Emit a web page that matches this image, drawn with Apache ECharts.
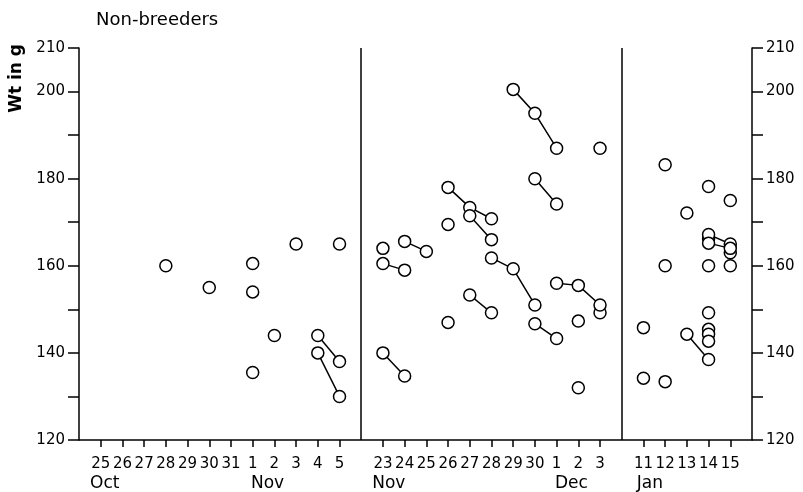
<!DOCTYPE html>
<html>
<head>
<meta charset="utf-8">
<script src="https://cdn.jsdelivr.net/npm/echarts@6/dist/echarts.min.js"></script>
<style>
  html, body { margin: 0; padding: 0; background: #fff; }
  #chart { width: 803px; height: 492px; }
</style>
</head>
<body>
<div id="chart"></div>
<script>
// day categories for the three periods, prefixed a/b/c so names stay unique
var octNovDays = ['a25', 'a26', 'a27', 'a28', 'a29', 'a30', 'a31', 'a1', 'a2', 'a3', 'a4', 'a5'];
var novDecDays = ['b23', 'b24', 'b25', 'b26', 'b27', 'b28', 'b29', 'b30', 'b1', 'b2', 'b3'];
var janDays = ['c11', 'c12', 'c13', 'c14', 'c15'];
var categories = ['gap0'].concat(octNovDays, ['gap1'], novDecDays, ['gap2'], janDays, ['gap3']);

// month names, placed under the first day of each run
var monthLabels = { gap0: '{a|Oct}', a31: '{b|Nov}', gap1: '{a|Nov}', b30: '{b|Dec}', gap2: '{c|Jan}' };

// y ticks that carry a label
var yLabels = [120, 140, 160, 180, 200, 210];

// single weighings
var singles = [
    ['a28', 160], ['a30', 155], ['a1', 160.5], ['a1', 154], ['a1', 135.5], ['a2', 144], ['a3', 165], ['a5', 165],
    ['b23', 164], ['b26', 169.5], ['b26', 147], ['b2', 147.3], ['b2', 132], ['b3', 149.2], ['b3', 187],
    ['c11', 145.8], ['c11', 134.2], ['c12', 183.2], ['c12', 160], ['c12', 133.4], ['c13', 172.1],
    ['c14', 178.2], ['c14', 160], ['c14', 149.2], ['c14', 145.4], ['c14', 144.3], ['c14', 142.7], ['c14', 166.2],
    ['c15', 175], ['c15', 160], ['c15', 163]
];

// same bird weighed on following days
var tracks = [
    [['a4', 144], ['a5', 138]],
    [['a4', 140], ['a5', 130]],
    [['b23', 160.5], ['b24', 159]],
    [['b24', 165.6], ['b25', 163.3]],
    [['b23', 140], ['b24', 134.7]],
    [['b26', 178], ['b27', 173.4], ['b28', 170.8]],
    [['b27', 171.5], ['b28', 166]],
    [['b27', 153.3], ['b28', 149.2]],
    [['b28', 161.8], ['b29', 159.3], ['b30', 151]],
    [['b29', 200.5], ['b30', 195], ['b1', 187]],
    [['b30', 180], ['b1', 174.2]],
    [['b30', 146.7], ['b1', 143.3]],
    [['b1', 156], ['b2', 155.5], ['b3', 151]],
    [['c13', 144.3], ['c14', 138.5]],
    [['c14', 167.2], ['c15', 165]],
    [['c14', 165.2], ['c15', 164]]
];

var FONT = 'DejaVu Sans';
var black = '#000';

var allPoints = singles.slice();
var series = [];
for (var i = 0; i < tracks.length; i++) {
    series.push({
        type: 'line',
        data: tracks[i],
        symbol: 'none',
        silent: true,
        z: 2,
        lineStyle: { color: black, width: 1.5 }
    });
    allPoints = allPoints.concat(tracks[i]);
}
series.push({
    type: 'scatter',
    data: allPoints,
    symbol: 'circle',
    symbolSize: 12,
    z: 3,
    itemStyle: { color: '#fff', borderColor: black, borderWidth: 1.5, opacity: 1 },
    markLine: {
        silent: true,
        symbol: ['none', 'none'],
        label: { show: false },
        lineStyle: { color: black, type: 'solid', width: 1.5 },
        data: [{ xAxis: 'gap1' }, { xAxis: 'gap2' }]
    }
});

function isDay(v) { return v.indexOf('gap') !== 0; }

function yAxis(pos) {
    return {
        type: 'value',
        position: pos,
        min: 120,
        max: 210,
        interval: 10,
        axisLine: { show: true, lineStyle: { color: black, width: 1.5 } },
        axisTick: { show: true, length: 11, lineStyle: { color: black, width: 1.5 } },
        axisLabel: {
            margin: 14,
            color: black,
            fontSize: 15,
            fontFamily: FONT,
            formatter: function (v) { return yLabels.indexOf(v) >= 0 ? String(v) : ''; }
        },
        splitLine: { show: false }
    };
}

var chart = echarts.init(document.getElementById('chart'));
chart.setOption({
    animation: false,
    backgroundColor: '#fff',
    title: {
        text: 'Non-breeders',
        left: 91,
        top: 6,
        textStyle: { fontSize: 18, fontWeight: 'normal', fontFamily: FONT, color: black }
    },
    graphic: [{
        type: 'text',
        left: 8,
        top: 44,
        rotation: Math.PI / 2,
        style: { text: 'Wt in g', font: 'bold 17px "DejaVu Sans"', fill: black }
    }],
    grid: { left: 79, right: 51, top: 48, bottom: 51, containLabel: false },
    xAxis: [{
        type: 'category',
        data: categories,
        boundaryGap: false,
        axisLine: { onZero: false, lineStyle: { color: black, width: 1.5 } },
        axisTick: {
            interval: function (idx, v) { return isDay(v); },
            length: 7,
            lineStyle: { color: black, width: 1.5 }
        },
        axisLabel: {
            interval: 0,
            margin: 17,
            color: black,
            fontSize: 15,
            fontFamily: FONT,
            formatter: function (v) { return isDay(v) ? v.slice(1) : ''; }
        },
        splitLine: { show: false }
    }, {
        type: 'category',
        data: categories,
        boundaryGap: false,
        position: 'bottom',
        axisLine: { show: false, onZero: false },
        axisTick: { show: false },
        axisLabel: {
            interval: 0,
            margin: 35,
            align: 'left',
            color: black,
            fontSize: 17,
            fontFamily: FONT,
            formatter: function (v) { return monthLabels[v] || ''; },
            rich: {
                a: { fontSize: 17, fontFamily: FONT, color: black, padding: [0, 0, 0, 11] },
                b: { fontSize: 17, fontFamily: FONT, color: black, padding: [0, 0, 0, 20] },
                c: { fontSize: 17, fontFamily: FONT, color: black, padding: [0, 0, 0, 15] }
            }
        },
        splitLine: { show: false }
    }],
    yAxis: [yAxis('left'), yAxis('right')],
    series: series
});
</script>
</body>
</html>
